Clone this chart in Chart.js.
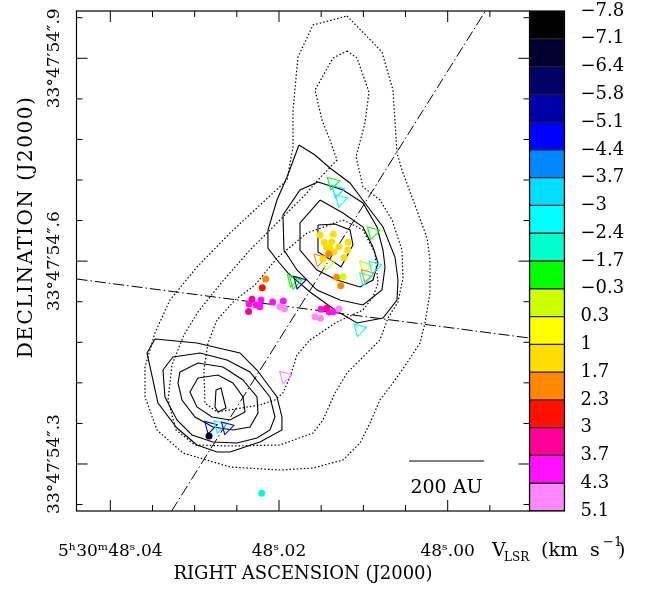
<!DOCTYPE html>
<html><head><meta charset="utf-8">
<script src="https://cdn.jsdelivr.net/npm/chart.js@4.4.1/dist/chart.umd.min.js"></script>
<style>
html,body{margin:0;padding:0;background:#fff;}
#wrap{position:relative;width:653px;height:590px;overflow:hidden;}
#main{position:absolute;left:0;top:0;width:653px;height:590px;}
#cbar{position:absolute;left:529px;top:0;width:124px;height:590px;}
</style></head><body>
<div id="wrap">
<canvas id="main" width="653" height="590"></canvas>
<canvas id="cbar" width="124" height="590"></canvas>
</div>
<script>
// ---------- colour bar (V_LSR, km/s) ----------
const cbEdges = [-7.8,-7.1,-6.4,-5.8,-5.1,-4.4,-3.7,-3,-2.4,-1.7,-0.3,0.3,1,1.7,2.3,3,3.7,4.3,5.1];
const cbLabels = ['\u22127.8','\u22127.1','\u22126.4','\u22125.8','\u22125.1','\u22124.4','\u22123.7','\u22123','\u22122.4','\u22121.7','\u22120.3','0.3','1','1.7','2.3','3','3.7','4.3','5.1'];
const cbColors = ['#000000','#00002e','#000066','#0000aa','#0000ff','#0088ff','#00ddff','#00ffff','#00ffcc','#00ff00','#ccff00','#ffff00','#ffdd00','#ff8800','#ff1100','#ff0099','#ff11ff','#ff88ff'];

// ---------- axes (RA seconds of 5h30m, Dec arcsec of 33d47') ----------
const raRange = [47.99030, 48.04401];
const decRange = [54.23049, 54.96994];
const raTicks = [47.995,48.000,48.005,48.010,48.015,48.020,48.025,48.030,48.035,48.040];
const raMajor = [48.00,48.02,48.04];
const raMajorLabels = ['48\u02e2.00','48\u02e2.02','5\u02b030\u1d5048\u02e2.04'];
const decTicks = [54.24,54.30,54.36,54.42,54.48,54.54,54.60,54.66,54.72,54.78,54.84,54.90,54.96];
const decMajor = [54.3,54.6,54.9];
const decMajorLabels = ['33\u00b047\u203254\u2033.3','33\u00b047\u203254\u2033.6','33\u00b047\u203254\u2033.9'];
const xTitle = 'RIGHT ASCENSION (J2000)';
const yTitle = 'DECLINATION (J2000)';

// ---------- maser spots: filled circles ----------
const spotRA  = [48.01514,48.01356,48.01463,48.01375,48.01179,48.01435,48.01404,48.01289,48.01186,48.01348,48.01479,48.01230,
                 48.01411,48.01316,48.01269,48.02158,48.01241,48.02198,
                 48.02356,48.02214,48.02273,48.02226,48.02075,48.01949,48.01502,48.01404,48.01360,
                 48.02320,48.02360,48.01435,
                 48.01988,48.01935,48.01289,48.01573,48.01508,
                 48.02830,48.02205];
const spotDec = [54.6387,54.6401,54.6279,54.6288,54.6279,54.6205,54.6205,54.6214,54.6165,54.6140,54.6036,54.6054,
                 54.6110,54.5761,54.5637,54.5736,54.5770,54.5607,
                 54.5366,54.5425,54.5351,54.5326,54.5396,54.5411,54.5288,54.5248,54.5252,
                 54.5436,54.5255,54.5303,
                 54.5326,54.5295,54.5292,54.5178,54.5155,
                 54.3414,54.2567];
const spotVel = [1.3,1.3,1.3,1.3,1.3,1.3,1.3,1.3,1.3,1.3,1.3,1.3,
                 2.0,2.0,2.0,2.0,0.0,2.6,
                 4.0,4.0,4.0,4.0,4.0,4.0,4.0,4.0,4.0,
                 3.3,3.3,3.3,
                 4.7,4.7,4.7,4.7,4.7,
                 -6.8,-2.0];

// ---------- maser spots: open triangles ----------
const triRA  = [48.01364,48.01309,48.01269,48.00889,48.01522,48.01423,48.00981,48.00870,48.00960,48.00981,
                48.01838,48.01811,48.01763,48.01048,48.01929,48.02818,48.02708,48.02620];
const triDec = [54.7160,54.7042,54.6904,54.6427,54.6027,54.5968,54.5918,54.5918,54.5795,54.5746,
                54.5721,54.5692,54.5696,54.4992,54.4291,54.3552,54.3562,54.3543];
const triVel = [-1.0,-3.3,-2.7,-1.0,2.0,0.0,0.0,-2.7,2.0,-2.7,
                -1.0,-1.0,-5.5,-2.0,4.7,-4.8,-2.7,-4.8];

// ---------- continuum contours (solid) ----------
const contN1 = [[48.01763,54.7718],[48.01573,54.7570],[48.01396,54.7378],[48.01158,54.7156],[48.00981,54.6860],[48.00767,54.6505],[48.00625,54.6061],[48.00589,54.5721],[48.00601,54.5425],[48.00767,54.5159],[48.01075,54.5085],[48.01336,54.5278],[48.01633,54.5544],[48.01894,54.5825],[48.02024,54.6017],[48.02131,54.6194],[48.02131,54.6461],[48.02024,54.6904],[48.01905,54.7244],[48.01763,54.7718]];
const contN2 = [[48.01538,54.7170],[48.01241,54.7052],[48.01004,54.6860],[48.00838,54.6505],[48.00767,54.6165],[48.00743,54.5913],[48.00779,54.5573],[48.01004,54.5351],[48.01277,54.5425],[48.01550,54.5573],[48.01787,54.5869],[48.01941,54.6165],[48.01953,54.6682],[48.01751,54.7052],[48.01538,54.7170]];
const contN3 = [[48.01514,54.6904],[48.01241,54.6712],[48.01004,54.6505],[48.00886,54.6209],[48.00826,54.5973],[48.00886,54.5721],[48.01040,54.5618],[48.01313,54.5721],[48.01550,54.5869],[48.01751,54.6165],[48.01751,54.6564],[48.01514,54.6904]];
const contN4 = [[48.01538,54.6535],[48.01336,54.6549],[48.01158,54.6461],[48.01123,54.6239],[48.01265,54.5913],[48.01419,54.6047],[48.01538,54.6135],[48.01538,54.6535]];
const contS1 = [[48.03471,54.4849],[48.02973,54.4789],[48.02463,54.4642],[48.02261,54.4390],[48.02024,54.3991],[48.01965,54.3695],[48.01965,54.3503],[48.02226,54.3325],[48.02581,54.3177],[48.02735,54.3177],[48.02973,54.3281],[48.03210,54.3532],[48.03435,54.3902],[48.03565,54.4642],[48.03471,54.4849]];
const contS2 = [[48.03376,54.4390],[48.03257,54.4582],[48.02937,54.4642],[48.02617,54.4538],[48.02344,54.4361],[48.02107,54.3991],[48.02048,54.3695],[48.02107,54.3503],[48.02261,54.3385],[48.02498,54.3311],[48.02783,54.3325],[48.03032,54.3429],[48.03210,54.3651],[48.03352,54.3991],[48.03376,54.4390]];
const contS3 = [[48.03174,54.4361],[48.02961,54.4494],[48.02664,54.4435],[48.02427,54.4242],[48.02261,54.3991],[48.02249,54.3754],[48.02344,54.3547],[48.02546,54.3503],[48.02783,54.3547],[48.02996,54.3695],[48.03150,54.3947],[48.03198,54.4198],[48.03174,54.4361]];
const contS4 = [[48.02961,54.4272],[48.02724,54.4316],[48.02546,54.4198],[48.02427,54.3991],[48.02403,54.3769],[48.02581,54.3651],[48.02795,54.3695],[48.02973,54.3843],[48.03056,54.4065],[48.02961,54.4272]];
const contS5 = [[48.02747,54.4094],[48.02688,54.4124],[48.02629,54.3828],[48.02724,54.3769],[48.02759,54.3843],[48.02747,54.4094]];
// ---------- dotted contours ----------
const contD1 = [[48.01194,54.9626],[48.00779,54.9093],[48.00649,54.8531],[48.00601,54.7599],[48.00542,54.7348],[48.00388,54.6830],[48.00245,54.6342],[48.00210,54.6017],[48.00210,54.5529],[48.00269,54.5085],[48.00328,54.4789],[48.00483,54.4494],[48.00649,54.4198],[48.00803,54.3947],[48.00921,54.3606],[48.01040,54.3311],[48.01241,54.3059],[48.01597,54.2941],[48.01988,54.2911],[48.02581,54.2956],[48.03139,54.3163],[48.03447,54.3503],[48.03589,54.3991],[48.03589,54.4435],[48.03471,54.4937],[48.03293,54.5425],[48.02973,54.5913],[48.02581,54.6416],[48.02071,54.7008],[48.01905,54.7200],[48.01834,54.7688],[48.01834,54.8235],[48.01775,54.9019],[48.01597,54.9492],[48.01194,54.9626]];
const contD2 = [[48.01194,54.9108],[48.01075,54.9004],[48.00933,54.8502],[48.00981,54.8043],[48.01087,54.7540],[48.01004,54.7097],[48.00803,54.6904],[48.00660,54.6609],[48.00542,54.6165],[48.00530,54.5751],[48.00589,54.5396],[48.00708,54.5159],[48.00803,54.4834],[48.01040,54.4538],[48.01194,54.4346],[48.01336,54.4050],[48.01479,54.3651],[48.01597,54.3458],[48.01988,54.3281],[48.02581,54.3266],[48.02996,54.3281],[48.03222,54.3503],[48.03316,54.3947],[48.03269,54.4464],[48.03127,54.4908],[48.02961,54.5248],[48.02676,54.5692],[48.02344,54.6165],[48.01988,54.6609],[48.01692,54.6978],[48.01538,54.7200],[48.01313,54.7496],[48.01396,54.7792],[48.01490,54.8087],[48.01573,54.8531],[48.01360,54.9004],[48.01194,54.9108]];
const contD3 = [[48.01241,54.6609],[48.01004,54.6461],[48.00862,54.6120],[48.00826,54.5677],[48.00886,54.5470],[48.01004,54.5278],[48.01313,54.5100],[48.01633,54.4834],[48.01787,54.4612],[48.01870,54.4287],[48.01953,54.4050],[48.02048,54.3947],[48.02226,54.3873],[48.02735,54.3769],[48.02878,54.3902],[48.02890,54.4390],[48.02842,54.4789],[48.02735,54.5130],[48.02522,54.5425],[48.02285,54.5647],[48.02024,54.6047],[48.01668,54.6416],[48.01241,54.6609]];
// ---------- dash-dot lines and scale bar ----------
const axisLine1 = [[48.03273,54.2305],[47.99558,54.9689]];
const axisLine2 = [[48.04401,54.5736],[47.99030,54.4863]];
const scaleBar = [[48.00459,54.3044],[47.99570,54.3044]];
const scaleBarLabel = '200 AU';

const SERIF = '"DejaVu Serif", "Liberation Serif", serif';

function velColor(v){
  for (let i = 0; i < cbColors.length; i++) if (v >= cbEdges[i] && v < cbEdges[i+1]) return cbColors[i];
  return cbColors[cbColors.length-1];
}
const toXY = arr => arr.map(p => ({x:p[0], y:p[1]}));
function lineDS(arr, dash, width){
  return {type:'line', data: toXY(arr), borderColor:'#000', borderWidth: width||1.1, borderDash: dash||[], pointRadius:0, fill:false, tension:0, order:5};
}
function majorLabel(v, majors, labels){
  for (let i = 0; i < majors.length; i++) if (Math.abs(v - majors[i]) < 1e-6) return labels[i];
  return '';
}

const mctx = document.createElement('canvas').getContext('2d');
mctx.font = '17px ' + SERIF;
const decLabW = mctx.measureText(decMajorLabels[1]).width;

const frameTicks = {
  id:'frameTicks',
  afterDatasetsDraw(chart){
    const {ctx, chartArea:a, scales:{x, y}} = chart;
    ctx.save();
    ctx.strokeStyle = '#000'; ctx.lineWidth = 1.2;
    ctx.strokeRect(a.left, a.top, a.right-a.left, a.bottom-a.top);
    ctx.lineWidth = 1;
    ctx.beginPath();
    raTicks.forEach(v => {
      const px = x.getPixelForValue(v);
      const L = raMajor.some(m => Math.abs(m-v) < 1e-6) ? 11 : 6;
      ctx.moveTo(px, a.bottom); ctx.lineTo(px, a.bottom - L);
      ctx.moveTo(px, a.top); ctx.lineTo(px, a.top + L);
    });
    decTicks.forEach(v => {
      const py = y.getPixelForValue(v);
      const L = decMajor.some(m => Math.abs(m-v) < 1e-6) ? 11 : 6;
      ctx.moveTo(a.left, py); ctx.lineTo(a.left + L, py);
      ctx.moveTo(a.right, py); ctx.lineTo(a.right - L, py);
    });
    ctx.stroke();
    const sx = (x.getPixelForValue(scaleBar[0][0]) + x.getPixelForValue(scaleBar[1][0]))/2;
    const sy = y.getPixelForValue(scaleBar[0][1]);
    ctx.fillStyle = '#000';
    ctx.font = '19px ' + SERIF; ctx.textAlign = 'center'; ctx.textBaseline = 'alphabetic';
    ctx.fillText(scaleBarLabel, sx, sy + 32);
    ctx.restore();
  },
  afterDraw(chart){
    const ctx = chart.ctx;
    ctx.save();
    ctx.fillStyle = '#000';
    // declination title (rotated, reading upward)
    ctx.save();
    ctx.translate(27, 227);
    ctx.rotate(-Math.PI/2);
    ctx.font = '20px ' + SERIF;
    if ('letterSpacing' in ctx) ctx.letterSpacing = '1.5px';
    ctx.textAlign = 'center'; ctx.textBaseline = 'middle';
    ctx.fillText(yTitle, 0, 0);
    ctx.restore();
    // V_LSR (km s^-1)
    ctx.textBaseline = 'alphabetic'; ctx.textAlign = 'left';
    const base = 556;
    ctx.font = '19px ' + SERIF; ctx.fillText('V', 492, base);
    ctx.font = '12px ' + SERIF; ctx.fillText('LSR', 504, base + 5);
    ctx.font = '19px ' + SERIF; ctx.fillText('(km', 541, base);
    ctx.fillText('s', 590, base);
    ctx.font = '13px ' + SERIF; ctx.fillText('\u22121', 603, base - 10);
    ctx.font = '19px ' + SERIF; ctx.fillText(')', 618, base);
    ctx.restore();
  }
};

const datasets = [
  {label:'spots', data: spotRA.map((r,i)=>({x:r, y:spotDec[i]})), pointStyle:'circle', pointRadius:3.5,
   pointBackgroundColor: spotVel.map(velColor), pointBorderWidth:0, showLine:false, order:0},
  {label:'tri', data: triRA.map((r,i)=>({x:r, y:triDec[i]})), pointStyle:'triangle', pointRadius:7.5, pointRotation:195,
   pointBackgroundColor:'rgba(0,0,0,0)', pointBorderColor: triVel.map(velColor), pointBorderWidth:1.1, showLine:false, order:1},
  lineDS(contN1), lineDS(contN2), lineDS(contN3), lineDS(contN4),
  lineDS(contS1), lineDS(contS2), lineDS(contS3), lineDS(contS4), lineDS(contS5),
  lineDS(contD1,[1.5,2.1],1.2), lineDS(contD2,[1.5,2.1],1.2), lineDS(contD3,[1.5,2.1],1.2),
  lineDS(axisLine1,[11,3,1.5,3],1), lineDS(axisLine2,[11,3,1.5,3],1),
  lineDS(scaleBar,[],1.2)
];

new Chart(document.getElementById('main'), {
  type:'scatter',
  data:{datasets},
  options:{
    responsive:false, animation:false, devicePixelRatio:1,
    layout:{padding:{left:0, top:11, right:123.5, bottom:0}},
    plugins:{legend:{display:false}, tooltip:{enabled:false}},
    scales:{
      x:{type:'linear', reverse:true, min:raRange[0], max:raRange[1],
         afterBuildTicks: s => { s.ticks = raTicks.map(v => ({value:v})); },
         afterFit: s => { s.height = 79; s.paddingLeft = 0; s.paddingRight = 0; },
         grid:{display:false}, border:{display:false},
         ticks:{autoSkip:false, maxRotation:0, minRotation:0, padding:22, color:'#000',
                font:{family:SERIF, size:17}, callback: v => majorLabel(v, raMajor, raMajorLabels)},
         title:{display:true, text:xTitle, color:'#000', font:{family:SERIF, size:18}, padding:{top:0,bottom:5}}},
      y:{type:'linear', min:decRange[0], max:decRange[1],
         afterBuildTicks: s => { s.ticks = decTicks.map(v => ({value:v})); },
         afterFit: s => { s.width = 76.5; s.paddingTop = 0; s.paddingBottom = 0; },
         grid:{display:false}, border:{display:false},
         ticks:{autoSkip:false, minRotation:90, maxRotation:90, padding:13.5, labelOffset:-decLabW/2, color:'#000',
                font:{family:SERIF, size:17}, callback: v => majorLabel(v, decMajor, decMajorLabels)},
         title:{display:false, text:yTitle}}
    }
  },
  plugins:[frameTicks]
});

new Chart(document.getElementById('cbar'), {
  type:'bar',
  data:{labels:['V'], datasets: cbColors.map((c,i)=>({data:[[i,i+1]], backgroundColor:c, borderColor:'#222', borderWidth:1,
        borderSkipped:false, grouped:false, barPercentage:1, categoryPercentage:1}))},
  options:{
    responsive:false, animation:false, devicePixelRatio:1,
    layout:{padding:{left:0.5, top:11, bottom:79, right:0}},
    plugins:{legend:{display:false}, tooltip:{enabled:false}},
    scales:{
      x:{display:false},
      y:{position:'right', min:0, max:18, reverse:true,
         afterBuildTicks: s => { s.ticks = cbLabels.map((_,i)=>({value:i})); },
         afterFit: s => { s.width = 88.5; s.paddingTop = 0; s.paddingBottom = 0; },
         grid:{display:false}, border:{display:false},
         ticks:{autoSkip:false, padding:8, labelOffset:0, color:'#000', font:{family:SERIF, size:18}, callback: v => cbLabels[v]}}
    }
  },
  plugins:[{id:'cbframe', afterDraw(c){ const a=c.chartArea, g=c.ctx; g.save(); g.strokeStyle='#000'; g.lineWidth=1.2; g.strokeRect(a.left,a.top,a.right-a.left,a.bottom-a.top); g.restore(); }}]
});
</script>
</body></html>
